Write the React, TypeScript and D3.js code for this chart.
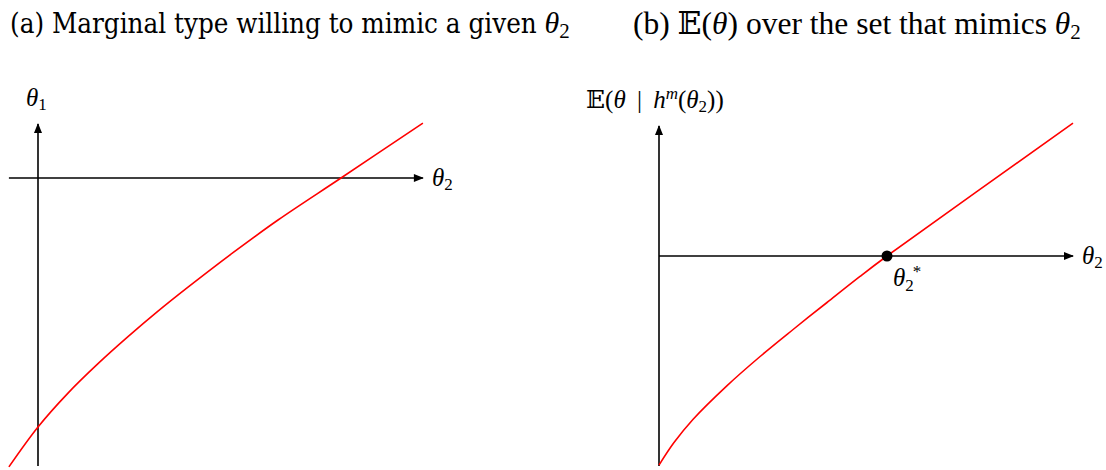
import * as d3 from 'd3';
import React, { useEffect, useRef } from 'react';

// panel (a): marginal type willing to mimic a given theta2
const marginalTheta2 = [-0.97, 0, 1, 2, 3, 4, 5, 6.5, 8, 10.1, 12.83];
const marginalTheta1 = [-9.63, -8.3, -7.17, -6.19, -5.29, -4.44, -3.64, -2.49, -1.4, 0, 1.83];

// panel (b): E(theta) over the set that mimics theta2
const mimicTheta2 = [0, 0.5, 1.13, 2.27, 3.37, 4.47, 5.6, 6.7, 7.6, 13.8];
const mimicExpect = [-6.97, -6.22, -5.45, -4.32, -3.35, -2.45, -1.55, -0.68, 0, 4.43];
const thetaStar = 7.6;

const titles = ['(a) Marginal type willing to mimic a given ', ') over the set that mimics '];

const SERIF = '"DejaVu Serif Condensed", "DejaVu Serif", "Liberation Serif", serif';
const MATH = '"Liberation Serif", "DejaVu Serif", "DejaVu Sans", serif';

function App() {
    const ref = useRef<SVGSVGElement>(null);

    useEffect(() => {
        const svg = d3.select(ref.current);
        svg.selectAll('*').remove();

        const defs = svg.append('defs');
        defs.append('marker')
            .attr('id', 'arrow')
            .attr('viewBox', '0 0 10 8')
            .attr('refX', 9)
            .attr('refY', 4)
            .attr('markerWidth', 11)
            .attr('markerHeight', 8)
            .attr('markerUnits', 'userSpaceOnUse')
            .attr('orient', 'auto')
            .append('path')
            .attr('d', 'M0,0 L10,4 L0,8 Z')
            .attr('fill', '#000');

        // titles
        const tA = svg.append('text')
            .attr('x', 10).attr('y', 33)
            .attr('font-family', SERIF).attr('font-size', 27.5);
        tA.append('tspan').text(titles[0]);
        tA.append('tspan').attr('font-style', 'italic').attr('font-family', MATH).attr('font-size', 30).text('\u03B8');
        tA.append('tspan').attr('font-family', MATH).attr('font-size', 21).attr('dy', 5).text('2');

        const tB = svg.append('text')
            .attr('x', 633).attr('y', 34)
            .attr('font-family', MATH).attr('font-size', 31.5);
        tB.append('tspan').text('(b) \u{1D53C}(');
        tB.append('tspan').attr('font-style', 'italic').text('\u03B8');
        tB.append('tspan').text(titles[1]);
        tB.append('tspan').attr('font-style', 'italic').text('\u03B8');
        tB.append('tspan').attr('font-size', 21).attr('dy', 5).text('2');

        // ---------- panel (a)
        const xa = d3.scaleLinear().domain([0, 10]).range([38, 338]);
        const ya = d3.scaleLinear().domain([0, -10]).range([178, 478]);

        const ga = svg.append('g');
        ga.append('line')
            .attr('x1', xa(-0.97)).attr('x2', xa(12.83))
            .attr('y1', ya(0)).attr('y2', ya(0))
            .attr('stroke', '#000').attr('stroke-width', 1.6)
            .attr('marker-end', 'url(#arrow)');
        ga.append('line')
            .attr('x1', xa(0)).attr('x2', xa(0))
            .attr('y1', ya(-9.6)).attr('y2', ya(1.8))
            .attr('stroke', '#000').attr('stroke-width', 1.6)
            .attr('marker-end', 'url(#arrow)');

        const lineA = d3.line<number>()
            .x((d, i) => xa(marginalTheta2[i]))
            .y(d => ya(d))
            .curve(d3.curveCatmullRom.alpha(0.5));
        ga.append('path')
            .attr('d', lineA(marginalTheta1))
            .attr('fill', 'none').attr('stroke', '#ff0000').attr('stroke-width', 1.6);

        const l1 = ga.append('text').attr('x', 26).attr('y', 106)
            .attr('font-family', MATH).attr('font-size', 25);
        l1.append('tspan').attr('font-style', 'italic').text('\u03B8');
        l1.append('tspan').attr('font-size', 17).attr('dy', 4).text('1');

        const l2 = ga.append('text').attr('x', 432).attr('y', 186)
            .attr('font-family', MATH).attr('font-size', 25);
        l2.append('tspan').attr('font-style', 'italic').text('\u03B8');
        l2.append('tspan').attr('font-size', 17).attr('dy', 4).text('2');

        // ---------- panel (b)
        const xb = d3.scaleLinear().domain([0, 10]).range([659, 959]);
        const yb = d3.scaleLinear().domain([0, -10]).range([256, 556]);

        const gb = svg.append('g');
        gb.append('line')
            .attr('x1', xb(0)).attr('x2', xb(13.8))
            .attr('y1', yb(0)).attr('y2', yb(0))
            .attr('stroke', '#000').attr('stroke-width', 1.6)
            .attr('marker-end', 'url(#arrow)');
        gb.append('line')
            .attr('x1', xb(0)).attr('x2', xb(0))
            .attr('y1', yb(-7)).attr('y2', yb(4.33))
            .attr('stroke', '#000').attr('stroke-width', 1.6)
            .attr('marker-end', 'url(#arrow)');

        const lineB = d3.line<number>()
            .x((d, i) => xb(mimicTheta2[i]))
            .y(d => yb(d))
            .curve(d3.curveCatmullRom.alpha(0.5));
        gb.append('path')
            .attr('d', lineB(mimicExpect))
            .attr('fill', 'none').attr('stroke', '#ff0000').attr('stroke-width', 1.6);

        gb.append('circle')
            .attr('cx', xb(thetaStar)).attr('cy', yb(0)).attr('r', 5.5)
            .attr('fill', '#000');

        const ls = gb.append('text').attr('x', 893).attr('y', 286)
            .attr('font-family', MATH).attr('font-size', 25);
        ls.append('tspan').attr('font-style', 'italic').text('\u03B8');
        ls.append('tspan').attr('font-size', 17).attr('dy', 5).text('2');
        ls.append('tspan').attr('font-size', 17).attr('dx', -1).attr('dy', -14).text('*');

        const lb = gb.append('text').attr('x', 1082).attr('y', 264)
            .attr('font-family', MATH).attr('font-size', 25);
        lb.append('tspan').attr('font-style', 'italic').text('\u03B8');
        lb.append('tspan').attr('font-size', 17).attr('dy', 4).text('2');

        const le = gb.append('text').attr('x', 586).attr('y', 108)
            .attr('font-family', MATH).attr('font-size', 25);
        le.append('tspan').text('\u{1D53C}(');
        le.append('tspan').attr('font-style', 'italic').text('\u03B8');
        le.append('tspan').text('\u2009 | \u2009');
        le.append('tspan').attr('font-style', 'italic').text('h');
        le.append('tspan').attr('font-style', 'italic').attr('font-size', 17).attr('dy', -9).text('m');
        le.append('tspan').attr('dy', 9).text('(');
        le.append('tspan').attr('font-style', 'italic').text('\u03B8');
        le.append('tspan').attr('font-size', 17).attr('dy', 4).text('2');
        le.append('tspan').attr('dy', -4).text('))');
    }, []);

    return (
        <svg ref={ref} width={1106} height={470}
            style={{ position: 'absolute', left: 0, top: 0, background: '#fff' }} />
    );
}

export default App;
